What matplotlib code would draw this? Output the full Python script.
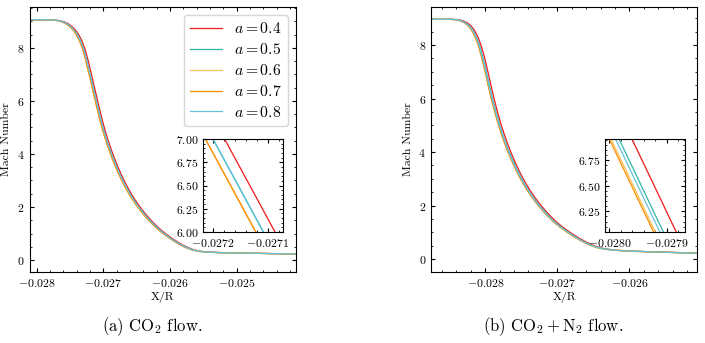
import numpy as np
import matplotlib
matplotlib.use("Agg")
import matplotlib.pyplot as plt
from matplotlib.ticker import MultipleLocator, AutoMinorLocator

plt.rcParams.update({
    "font.family": "serif",
    "font.serif": ["cmr10"],
    "mathtext.fontset": "cm",
    "axes.formatter.use_mathtext": True,
    "axes.formatter.useoffset": False,
    "font.size": 8.5,
    "xtick.direction": "in",
    "ytick.direction": "in",
    "xtick.top": True,
    "ytick.right": True,
    "xtick.minor.visible": True,
    "ytick.minor.visible": True,
    "xtick.major.size": 3,
    "ytick.major.size": 3,
    "xtick.minor.size": 1.5,
    "ytick.minor.size": 1.5,
    "axes.linewidth": 0.8,
})

a_values = [0.4, 0.5, 0.6, 0.7, 0.8]
colors = ["#f01818", "#2fb5ab", "#f2c45c", "#ff8c00", "#62c3dc"]

# (a) CO2 flow: curve for a = 0.5
x_co2 = [-0.02812, -0.02790, -0.02780, -0.02775, -0.02770, -0.02765, -0.02760,
         -0.02755, -0.02750, -0.02745, -0.02740, -0.02735, -0.02730, -0.02725,
         -0.02720, -0.027108, -0.02705, -0.02700, -0.02695, -0.02690, -0.02685,
         -0.02680, -0.02675, -0.02670, -0.02665, -0.02660, -0.02655, -0.02650,
         -0.02645, -0.02640, -0.02635, -0.02630, -0.02625, -0.02620, -0.02615,
         -0.02610, -0.02605, -0.02600, -0.02595, -0.02590, -0.02585, -0.02580,
         -0.02575, -0.02570, -0.02565, -0.02560, -0.02555, -0.02550, -0.02540,
         -0.02530, -0.02500, -0.02460, -0.02430, -0.02400]
m_co2 = [9.06, 9.06, 9.058, 9.05, 9.035, 9.01, 8.97,
         8.91, 8.82, 8.70, 8.53, 8.30, 7.98, 7.52,
         7.00, 6.00, 5.39, 4.92, 4.51, 4.14, 3.80,
         3.49, 3.205, 2.945, 2.705, 2.485, 2.285, 2.10,
         1.93, 1.77, 1.62, 1.48, 1.35, 1.23, 1.12,
         1.02, 0.925, 0.835, 0.75, 0.67, 0.595, 0.53,
         0.47, 0.42, 0.38, 0.35, 0.328, 0.312, 0.296,
         0.285, 0.265, 0.25, 0.235, 0.222]
# shift along X of each a relative to a = 0.5 (read in the inset)
dx_co2 = [0.0000214, 0.0, -0.0000140, -0.0000135, 0.0000005]

# (b) CO2 + N2 flow: curve for a = 0.5
x_mix = [-0.02880, -0.02850, -0.02843, -0.02838, -0.02833, -0.02828, -0.02823,
         -0.02818, -0.02813, -0.02808, -0.02803, -0.027983, -0.027906, -0.02785,
         -0.02780, -0.02775, -0.02770, -0.02765, -0.02760, -0.02755, -0.02750,
         -0.02745, -0.02740, -0.02735, -0.02730, -0.02725, -0.02720, -0.02715,
         -0.02710, -0.02705, -0.02700, -0.02695, -0.02690, -0.02685, -0.02680,
         -0.02675, -0.02670, -0.02665, -0.02660, -0.02655, -0.02650, -0.02645,
         -0.02640, -0.02635, -0.02630, -0.02620, -0.02600, -0.02570, -0.02540,
         -0.02500]
m_mix = [8.96, 8.96, 8.953, 8.935, 8.90, 8.84, 8.74,
         8.58, 8.33, 7.98, 7.50, 6.96, 6.05, 5.47,
         5.00, 4.59, 4.22, 3.88, 3.57, 3.285, 3.025,
         2.785, 2.565, 2.365, 2.18, 2.01, 1.85, 1.70,
         1.56, 1.43, 1.31, 1.205, 1.105, 1.01, 0.92,
         0.835, 0.755, 0.68, 0.61, 0.545, 0.49, 0.445,
         0.41, 0.385, 0.365, 0.335, 0.30, 0.275, 0.25,
         0.22]
dx_mix = [0.0000225, 0.0, -0.0000140, -0.0000170, -0.0000061]

W, H = 705, 343
fig = plt.figure(figsize=(W / 100, H / 100), dpi=100)


def rect(x0, y0, x1, y1):
    return [x0 / W, 1 - y1 / H, (x1 - x0) / W, (y1 - y0) / H]


def draw(ax, xs, ms, dxs, lw=0.9):
    xs = np.array(xs)
    for a, c, dx in zip(a_values, colors, dxs):
        ax.plot(xs + dx, ms, color=c, lw=lw, label=rf"$a = {a}$")


# ---------- left panel
ax1 = fig.add_axes(rect(29.5, 7, 296, 272))
draw(ax1, x_co2, m_co2, dx_co2)
ax1.set_xlim(-0.028108, -0.024111)
ax1.set_ylim(-0.45, 9.54)
ax1.xaxis.set_major_locator(MultipleLocator(0.001))
ax1.yaxis.set_major_locator(MultipleLocator(2))
ax1.set_xlabel("X/R", labelpad=2)
ax1.set_ylabel("Mach Number", labelpad=4)
ax1.legend(loc="upper right", fontsize=11.3, handlelength=2.0,
           labelspacing=0.38, borderaxespad=0.5, framealpha=0.8)

in1 = fig.add_axes(rect(203, 139, 283, 232))
draw(in1, x_co2, m_co2, dx_co2, lw=0.9)
in1.set_xlim(-0.027218, -0.027072)
in1.set_ylim(6.0, 7.0)
in1.xaxis.set_major_locator(MultipleLocator(0.0001))
in1.yaxis.set_major_locator(MultipleLocator(0.25))
in1.yaxis.set_major_formatter(plt.FormatStrFormatter(r"$%.2f$"))
in1.xaxis.set_major_formatter(plt.FormatStrFormatter(r"$%.4f$"))

# ---------- right panel
ax2 = fig.add_axes(rect(431, 7, 697, 272))
draw(ax2, x_mix, m_mix, dx_mix)
ax2.set_xlim(-0.028754, -0.02506)
ax2.set_ylim(-0.48, 9.42)
ax2.xaxis.set_major_locator(MultipleLocator(0.001))
ax2.yaxis.set_major_locator(MultipleLocator(2))
ax2.set_xlabel("X/R", labelpad=2)
ax2.set_ylabel("Mach Number", labelpad=4)

in2 = fig.add_axes(rect(605, 139, 685, 231.7))
draw(in2, x_mix, m_mix, dx_mix, lw=0.9)
in2.set_xlim(-0.0280075, -0.027868)
in2.set_ylim(6.05, 6.96)
in2.xaxis.set_major_locator(MultipleLocator(0.0001))
in2.yaxis.set_major_locator(MultipleLocator(0.25))
in2.yaxis.set_major_formatter(plt.FormatStrFormatter(r"$%.2f$"))
in2.xaxis.set_major_formatter(plt.FormatStrFormatter(r"$%.4f$"))

for ax in (ax1, ax2, in1, in2):
    ax.xaxis.set_minor_locator(AutoMinorLocator())
    ax.yaxis.set_minor_locator(AutoMinorLocator())

fig.text(152 / W, 1 - 327 / H, r"(a) CO$_2$ flow.", ha="center", va="center",
         fontsize=12)
fig.text(553 / W, 1 - 327 / H, r"(b) $\mathrm{CO_2 + N_2}$ flow.", ha="center",
         va="center", fontsize=12)

fig.savefig("out.png", dpi=100)
